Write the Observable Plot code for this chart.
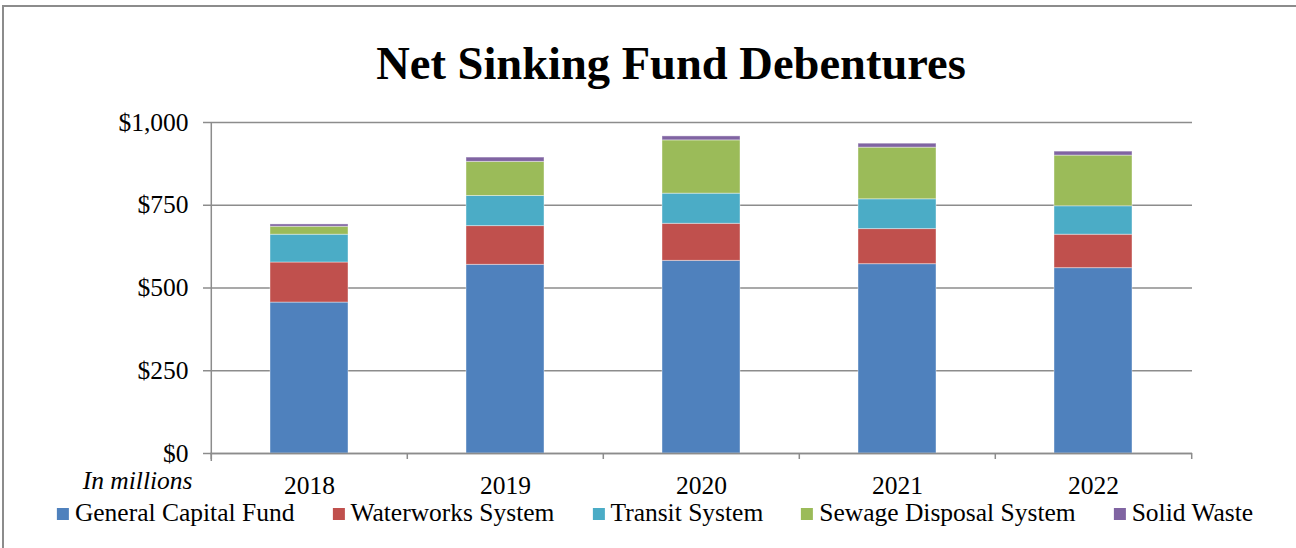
<!DOCTYPE html>
<html><head><meta charset="utf-8">
<script src="https://cdn.jsdelivr.net/npm/d3@7"></script>
<script src="https://cdn.jsdelivr.net/npm/@observablehq/plot@0.6"></script>
<style>
html,body{margin:0;padding:0;background:#fff;overflow:hidden;}
#wrap{position:relative;width:1296px;height:548px;font-family:"Liberation Serif","Times New Roman",serif;color:#000;}
#border{position:absolute;left:2px;top:5px;width:1310px;height:560px;border-left:2px solid #8c8c8c;border-top:2px solid #8c8c8c;}
#title{position:absolute;top:41px;left:671px;transform:translateX(-50%);white-space:nowrap;font-size:46.5px;line-height:46px;font-weight:bold;}
#chart{position:absolute;left:0;top:100px;}
#legend{position:absolute;top:501px;left:655px;transform:translateX(-50%);display:flex;gap:38px;white-space:nowrap;font-size:25.5px;line-height:24px;}
.item{display:flex;align-items:center;}
.sw{width:12px;height:12px;margin-right:6px;margin-top:2px;}
</style></head>
<body>
<div id="wrap">
  <div id="border"></div>
  <div id="title">Net Sinking Fund Debentures</div>
  <div id="chart"></div>
  <div id="legend"></div>
</div>
<script>
const years = ["2018", "2019", "2020", "2021", "2022"];
const seriesNames = ["General Capital Fund", "Waterworks System", "Transit System", "Sewage Disposal System", "Solid Waste"];
const generalCapital = [456, 570, 582, 572, 560];
const waterworks = [121, 117, 112, 106, 101];
const transit = [84, 91, 91, 90, 86];
const sewage = [24, 103, 161, 156, 153];
const solidWaste = [7, 13, 12, 12, 12];
const colors = ["#4F81BD", "#C0504D", "#4BACC6", "#9BBB59", "#8064A2"];
const yTicks = [0, 250, 500, 750, 1000];

const seriesValues = [generalCapital, waterworks, transit, sewage, solidWaste];
const data = [];
seriesNames.forEach((s, si) => years.forEach((y, yi) => data.push({year: y, series: s, value: seriesValues[si][yi]})));

const W = 1296, H = 400, mL = 210, mR = 104, mT = 22, mB = 47;
const step = (W - mL - mR) / years.length;
const gray = "#8c8c8c";
const fmt = d3.format(",");

const chart = Plot.plot({
  width: W, height: H,
  marginLeft: mL, marginRight: mR, marginTop: mT, marginBottom: mB,
  style: {fontFamily: "'Liberation Serif','Times New Roman',serif", fontSize: "25.5px", background: "transparent", color: "#000"},
  x: {type: "band", domain: years, paddingInner: 0.6, paddingOuter: 0.3, label: null},
  y: {domain: [0, 1000], label: null},
  color: {domain: seriesNames, range: colors},
  marks: [
    Plot.gridY(yTicks, {stroke: gray, strokeOpacity: 1, strokeWidth: 1.5}),
    Plot.barY(data, {x: "year", y: "value", fill: "series", stroke: "#fff", strokeOpacity: 0.4, strokeWidth: 1}),
    Plot.ruleY([0], {stroke: gray, strokeWidth: 1.5}),
    Plot.ruleX([years[0]], {dx: -step / 2, insetBottom: -8, stroke: gray, strokeWidth: 1.5}),
    Plot.ruleX(years, {dx: -step / 2, insetTop: H - mT - mB, insetBottom: -6, stroke: gray, strokeWidth: 1.5}),
    Plot.ruleX([years[years.length - 1]], {dx: step / 2, insetTop: H - mT - mB, insetBottom: -6, stroke: gray, strokeWidth: 1.5}),
    Plot.axisY(yTicks, {tickSize: 7, tickPadding: 15, stroke: gray, strokeWidth: 1.5, fill: "#000", fontSize: 25.5, tickFormat: d => "$" + fmt(d), label: null}),
    Plot.axisX(years, {tickSize: 0, tickPadding: 22, fill: "#000", fontSize: 25.5, label: null}),
    Plot.text(["In millions"], {frameAnchor: "bottom-left", dx: -18, dy: 35, textAnchor: "end", fontStyle: "italic", fontSize: 25.5, fill: "#000"})
  ]
});
document.getElementById("chart").appendChild(chart);

const legend = document.getElementById("legend");
seriesNames.forEach((s, i) => {
  const item = document.createElement("div");
  item.className = "item";
  const sw = document.createElement("div");
  sw.className = "sw";
  sw.style.background = colors[i];
  const t = document.createElement("span");
  t.textContent = s;
  item.appendChild(sw); item.appendChild(t);
  legend.appendChild(item);
});
</script>
</body></html>
